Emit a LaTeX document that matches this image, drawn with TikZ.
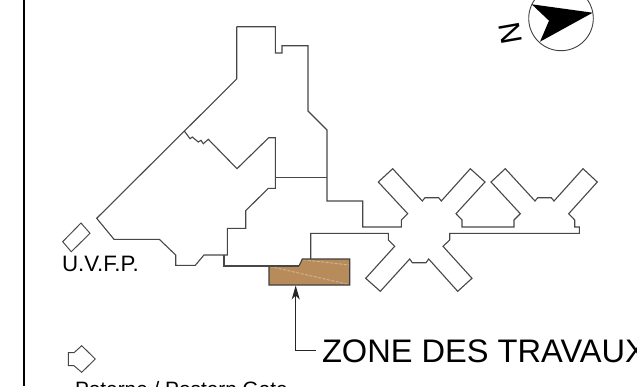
\documentclass[tikz,border=0pt]{standalone}
\usepackage{fontspec}
\setmainfont{Liberation Sans}
\usetikzlibrary{arrows.meta}
\tikzset{
  plan/.style={draw=black!72,line width=1.1pt,line join=miter},
  lbl/.style={anchor=base west,inner sep=0pt,outer sep=0pt,text=black},
}
\definecolor{zone}{HTML}{B88C5A}
\begin{document}
\begin{tikzpicture}[x=1pt,y=-1pt]
\useasboundingbox (0,0) rectangle (637,386);
\clip (0,0) rectangle (637,386);
\fill[white] (0,0) rectangle (637,386);
% frame
\draw[line width=2.6pt,black] (24,0) -- (24,386);
% zone
\fill[zone] (269,266) -- (299,266) -- (302.3,259) -- (349.7,259) -- (349.7,285) -- (269,285) -- cycle;
\draw[white!35!zone,line width=0.9pt,dash pattern=on 3pt off 1.5pt] (270,266.5) -- (348,284.3);
\draw[white!35!zone,line width=0.9pt,dash pattern=on 3pt off 1.5pt] (303.3,259.8) -- (349,265);
\draw[line width=1.1pt,black!75] (269,266) -- (269,285) -- (349.7,285) -- (349.7,259) -- (302.3,259) -- (299,266);
% building
\draw[plan] (236.7,26.7) -- (275.3,26.7) -- (275.3,53) -- (282,53) -- (282,45.7) -- (308,45.7) -- (308,111) -- (327,130) -- (327,201) -- (362.7,201) -- (362.7,227) -- (401.3,227) -- (401.3,220) -- (407.7,213.7) -- (378.3,182) -- (392.7,168.7) -- (422.3,201) -- (425,197.7) -- (438.7,197.7) -- (441.3,201) -- (470.3,168.7) -- (485,182) -- (456,213.7) -- (462,220) -- (462,227) -- (514,227) -- (514,220) -- (520.3,213.7) -- (491,182) -- (505.3,168.7) -- (535,201) -- (537.7,197.7) -- (551.3,197.7) -- (554,201) -- (583,168.7) -- (597.3,182) -- (568.7,213.7) -- (574.7,220) -- (574.7,227) -- (579.3,227) -- (579.3,233.3) -- (449.7,233.3) -- (449.7,240) -- (443,246.3) -- (472,278.3) -- (457.7,291.3) -- (428.7,259) -- (426,262.7) -- (412.3,262.7) -- (409.7,259) -- (380.3,291.3) -- (365.7,278.3) -- (394.7,246.3) -- (388.3,240) -- (388.3,233.3) -- (310.7,233.3) -- (310.7,259);
\draw[plan] (299,266) -- (224,266) -- (224,255);
\draw[plan] (236.7,26.7) -- (236.7,79) -- (96.7,218.3) -- (114,239.3) -- (159.3,239.3) -- (175.7,255) -- (175.7,265.3) -- (195.3,265.3) -- (204,255) -- (227.3,255) -- (227.3,228.3) -- (245.7,228.3) -- (245.7,210.7) -- (268.3,188.3) -- (275.3,188.3) -- (275.3,137.7) -- (268.7,137.7) -- (237,168.7) -- (208.3,139.3) -- (203.3,143.7) -- (201,140.3) -- (198.3,142) -- (192.3,137) -- (190,138.7) -- (184.3,131);
\draw[plan] (275.3,177.7) -- (327,177.7);
% U.V.F.P.
\draw[plan,line width=0.95pt] (62.7,241.7) -- (81,223) -- (90,233.3) -- (71.3,251.7) -- cycle;
\node[lbl,font=\fontsize{22.3}{24}\selectfont] (uvfp) at (62,271) {U.V.F.P.};
% postern
\draw[plan,line width=0.95pt] (68.3,352.7) -- (74,352.7) -- (81.7,345.7) -- (95.3,359) -- (81.7,372.3) -- (74,365.7) -- (68.3,365.7) -- cycle;
\node[lbl,font=\fontsize{20.8}{24}\selectfont] (gate) at (75,396.5) {Poterne / Postern Gate};
% label and leader
\node[lbl,font=\fontsize{32.6}{36}\selectfont] (zonelbl) at (322,362.3) {ZONE DES TRAVAUX};
\coordinate (zonepoint) at (295.7,285.5);
\coordinate (elbow) at (295.7,350.7);
\coordinate (leaderend) at (316,350.7);
\draw[line width=1.2pt,black!85,-{Stealth[length=14pt,width=8pt,inset=4pt]}] (leaderend) -- (elbow) -- (zonepoint);
% north
\draw[line width=0.9pt,black!75] (561,18.4) circle[radius=32.3];
\fill[black] (531.7,4.3) -- (592.7,12.7) -- (540,41.7) -- (549,20.7) -- cycle;
\node[inner sep=0pt,rotate=-80,font=\fontsize{30}{32}\selectfont] (north) at (510.5,33.5) {N};
\end{tikzpicture}
\end{document}
